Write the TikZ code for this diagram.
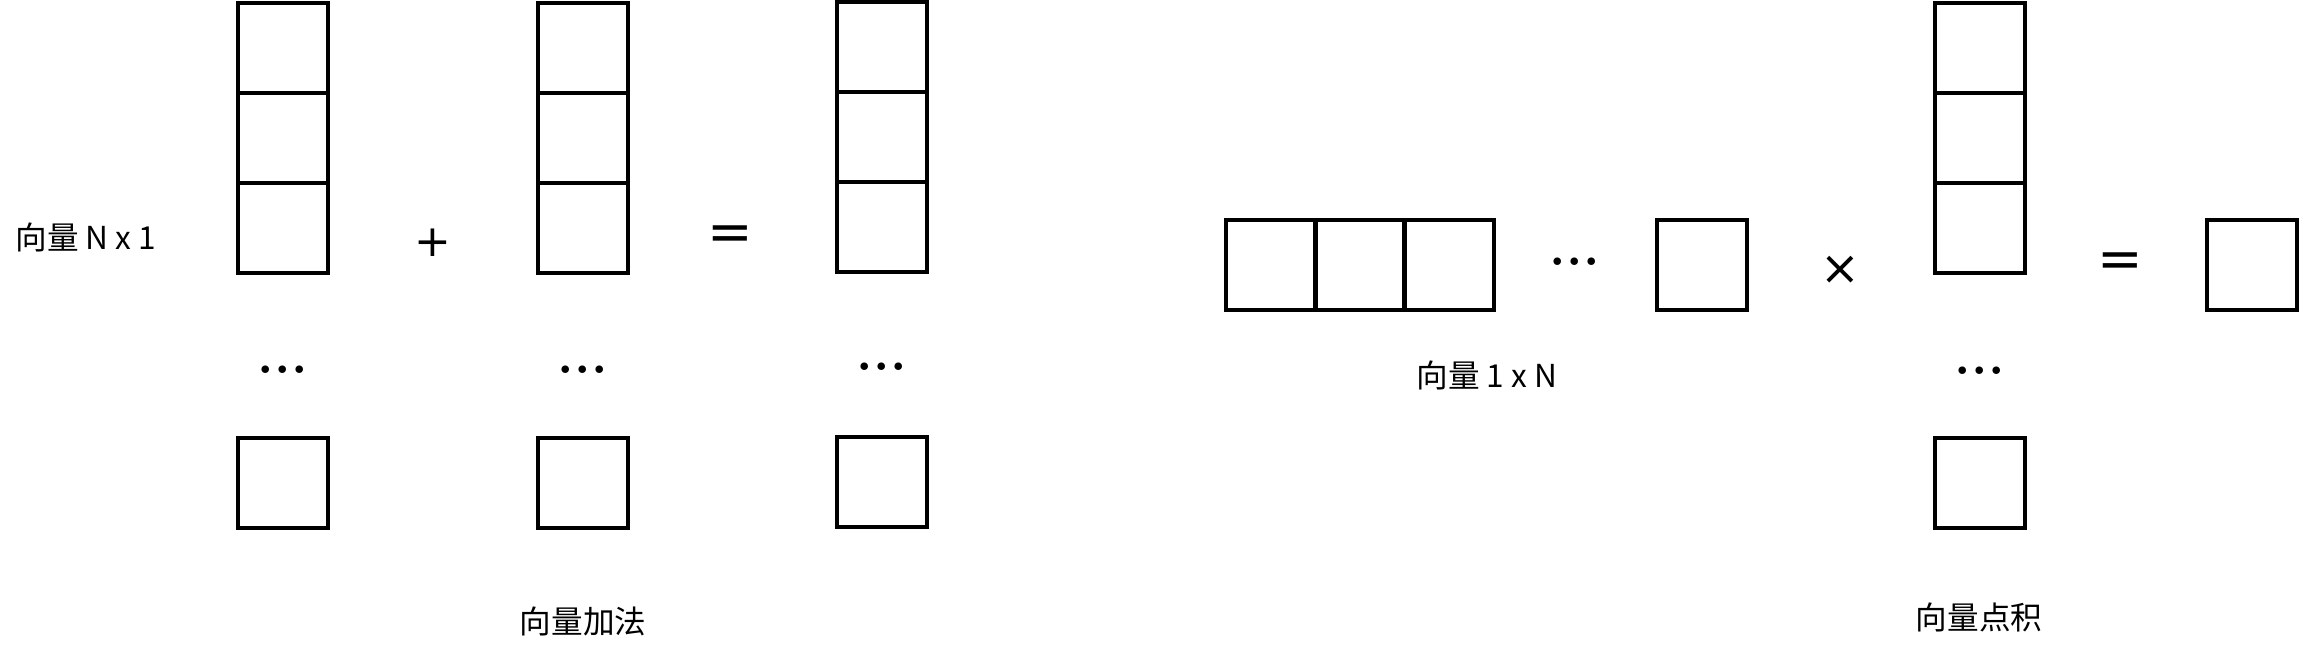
\documentclass[tikz,border=0pt]{standalone}
\usepackage{fontspec}
\newfontfamily\cjk{Noto Sans CJK SC}
\newfontfamily\sym{DejaVu Sans}

\begin{document}
\begin{tikzpicture}[x=0.02cm,y=-0.02cm]
  \tikzstyle{every node}=[inner sep=0pt];
  \tikzstyle{cell}=[draw,line width=2.1pt,minimum size=1.8cm];
  \tikzstyle{lbl}=[font=\cjk\fontsize{18}{20}\selectfont];
  \tikzstyle{dots}=[font=\bfseries\fontsize{30}{30}\selectfont];
  \newcommand{\dotrow}{.\kern0.3pt.\kern0.3pt.}
  \useasboundingbox (0,0) rectangle (2299,649);

  % vector addition
  \node[lbl] (nx1) at (86,237) {向量 N x 1};
  \node[cell] (a1) at (283,48) {};
  \node[cell] (a2) at (283,138) {};
  \node[cell] (a3) at (283,228) {};
  \node[dots] (adots) at (283,370) {\dotrow};
  \node[cell] (an) at (283,483) {};

  \node[font=\sym\fontsize{25}{25}\selectfont] (plus) at (433,243) {+};

  \node[cell] (b1) at (583,48) {};
  \node[cell] (b2) at (583,138) {};
  \node[cell] (b3) at (583,228) {};
  \node[dots] (bdots) at (583,370) {\dotrow};
  \node[cell] (bn) at (583,483) {};

  \node[font=\sym\fontsize{31}{31}\selectfont] (eq1) at (730,238) {=};

  \node[cell] (c1) at (882,47) {};
  \node[cell] (c2) at (882,137) {};
  \node[cell] (c3) at (882,227) {};
  \node[dots] (cdots) at (882,367) {\dotrow};
  \node[cell] (cn) at (882,482) {};

  \node[lbl] (add) at (583,621) {向量加法};

  % dot product
  \node[cell] (r1) at (1271,265) {};
  \node[cell] (r2) at (1360,265) {};
  \node[cell] (r3) at (1449,265) {};
  \node[dots] (rdots) at (1575,262) {\dotrow};
  \node[cell] (rn) at (1702,265) {};
  \node[lbl] (1xn) at (1487,375) {向量 1 x N};

  \node[font=\sym\fontsize{27}{27}\selectfont] (times) at (1840,270) {×};

  \node[cell] (d1) at (1980,48) {};
  \node[cell] (d2) at (1980,138) {};
  \node[cell] (d3) at (1980,228) {};
  \node[dots] (ddots) at (1980,371) {\dotrow};
  \node[cell] (dn) at (1980,483) {};

  \node[font=\sym\fontsize{31}{31}\selectfont] (eq2) at (2120,265) {=};
  \node[cell] (res) at (2252,265) {};

  \node[lbl] (dot) at (1979,617) {向量点积};
\end{tikzpicture}
\end{document}
